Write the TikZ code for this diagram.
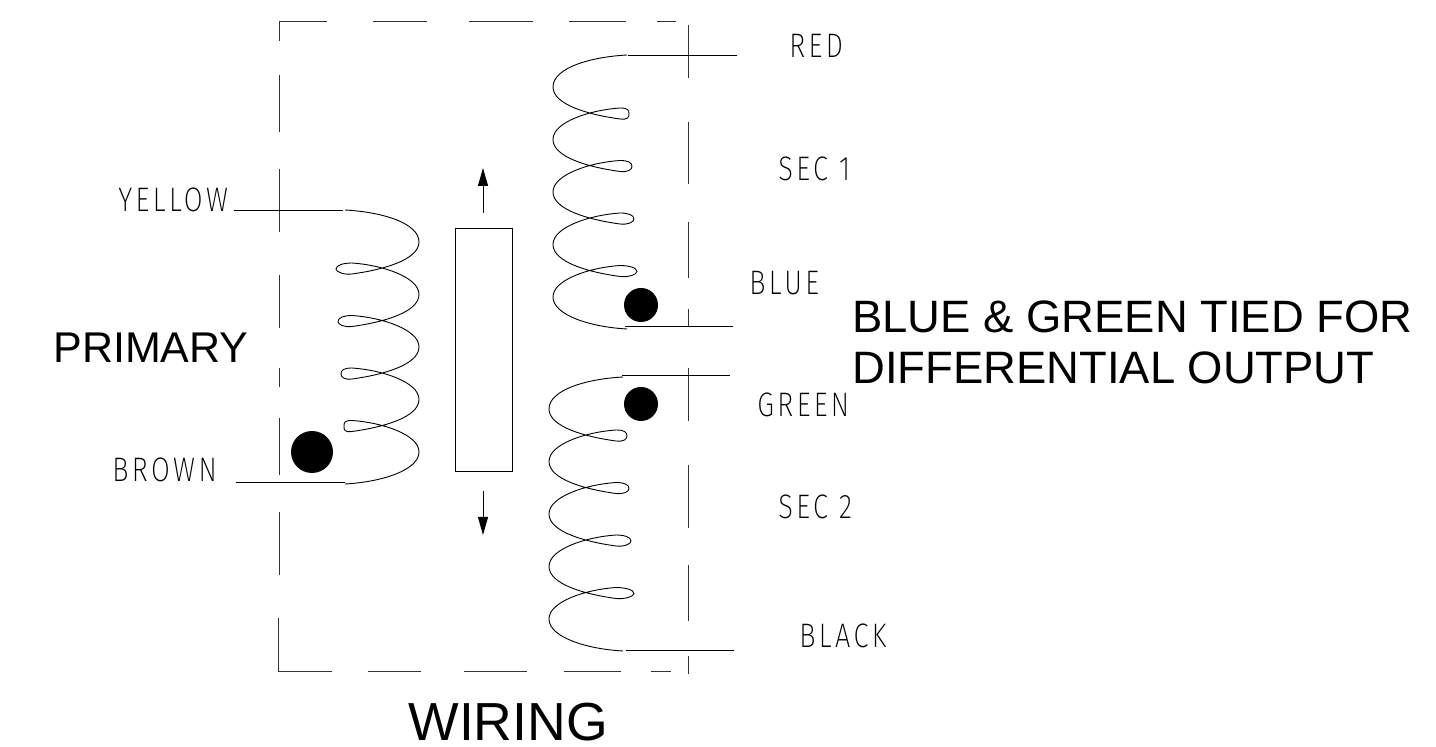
\documentclass[tikz,border=0pt]{standalone}
\usepackage{fontspec}
\usepackage{tikz}
\usetikzlibrary{arrows.meta}
\setmainfont{Liberation Sans}
\newfontfamily\cadfont[UprightFont={* ExtraLight},LetterSpace=10,FakeStretch=0.8]{Fira Sans}

% one winding, drawn from the lead end: #1 position, #2 side, #3 end of each loop
\newcommand{\drawcoil}[3]{
\draw[coil_style, shift={#1}, xscale=#2] (0,0) .. controls (-37,2) and (-74,13) .. (-74,32)
  \foreach \tip [count=\turn from 0, evaluate=\turn as \y using \turn*52.5] in {#3} {
    .. controls (-74,{\y+50}) and (-37,{\y+60}) .. (-7,{\y+64})
    .. controls (1,{\y+65}) and (\tip,{\y+62}) .. (\tip,{\y+59})
    .. controls (\tip,{\y+55}) and (1,{\y+53}) .. (-7,{\y+53})
    .. controls (-37,{\y+55}) and (-74,{\y+67}) .. (-74,{\y+84.5})
  }
  .. controls (-74,260) and (-37,272) .. (0,274);
}

\begin{document}
\begin{tikzpicture}[x=0.5pt, y=-0.5pt,
coil_style/.style={draw=black, line width=0.45pt},
wire_style/.style={draw=black, line width=0.5pt},
frame_style/.style={draw=black!80, line width=0.5pt},
dot_style/.style={circle, fill=black, inner sep=0pt},
cad_style/.style={inner sep=0pt, anchor=base west, font=\cadfont\fontsize{17}{17}\selectfont},
note_style/.style={inner sep=0pt, anchor=base west, font=\fontsize{22.7}{22.7}\selectfont},
arrow_style/.style={draw=black, line width=0.5pt, -{Triangle[length=9pt, width=5pt]}}]
\useasboundingbox (0,0) rectangle (1436,747);

% dashed case
\draw[frame_style] (279,41) -- (279,21.5) -- (327,21.5);
\foreach \a/\b in {373/427, 469/533, 569/626, 657/676}
  \draw[frame_style] (\a,21.5) -- (\b,21.5);
\foreach \a/\b in {75/132, 169/232, 275/328, 368/387, 418/475, 512/575}
  \draw[frame_style] (279,\a) -- (279,\b);
\draw[frame_style] (278.5,618) -- (278.5,672) -- (332,672);
\foreach \a/\b in {368/421, 464/527, 564/621, 651/671}
  \draw[frame_style] (\a,672) -- (\b,672);
\foreach \a/\b in {25/78, 122/184, 222/278, 309/327, 368/421, 465/528, 565/621, 656/674}
  \draw[frame_style] (688,\a) -- (688,\b);

% core
\node[draw=black, line width=0.5pt, minimum width=28.5pt, minimum height=121.5pt, inner sep=0pt] (core) at (483.5,350.5) {};
\coordinate (up_base) at (483,213);
\coordinate (up_tip) at (483,168);
\coordinate (down_base) at (483,491);
\coordinate (down_tip) at (483,535);
\draw[arrow_style] (up_base) -- (up_tip);
\draw[arrow_style] (down_base) -- (down_tip);

% windings
\drawcoil{(345,210)}{-1}{9,7,4,1}
\drawcoil{(627,55)}{1}{2,5,7,10}
\drawcoil{(623,377)}{1}{4,6,8,11}

% dots
\node[dot_style, minimum size=21pt] (dot_primary) at (312,452) {};
\node[dot_style, minimum size=17pt] (dot_blue) at (641,305) {};
\node[dot_style, minimum size=17pt] (dot_green) at (641,404) {};

% leads
\coordinate (yellow_a) at (234,211);
\coordinate (yellow_b) at (343,211);
\coordinate (brown_a) at (236,483);
\coordinate (brown_b) at (345,483);
\coordinate (red_a) at (628,56);
\coordinate (red_b) at (737,56);
\coordinate (blue_a) at (625,327);
\coordinate (blue_b) at (733,327);
\coordinate (green_a) at (622,376);
\coordinate (green_b) at (730,376);
\coordinate (black_a) at (626,651);
\coordinate (black_b) at (734,651);
\draw[wire_style] (yellow_a) -- (yellow_b);
\draw[wire_style] (brown_a) -- (brown_b);
\draw[wire_style] (red_a) -- (red_b);
\draw[wire_style] (blue_a) -- (blue_b);
\draw[wire_style] (green_a) -- (green_b);
\draw[wire_style] (black_a) -- (black_b);

% labels
\node[cad_style] (yellow) at (118,212) {YELLOW};
\node[cad_style] (brown) at (112,482) {BROWN};
\node[cad_style] (red) at (789,58) {RED};
\node[cad_style] (sec_one) at (778,181) {SEC 1};
\node[cad_style] (blue) at (749,295) {BLUE};
\node[cad_style] (green) at (757,417) {GREEN};
\node[cad_style] (sec_two) at (778,519) {SEC 2};
\node[cad_style] (black) at (799,648) {BLACK};

\node[note_style, font=\fontsize{21.5}{21.5}\selectfont] (primary) at (53,363) {PRIMARY};
\node[note_style] (tied) at (852,333) {BLUE \& GREEN TIED FOR};
\node[note_style] (output) at (852,384) {DIFFERENTIAL OUTPUT};
\node[note_style, font=\fontsize{26.8}{26.8}\selectfont] (wiring) at (408,741) {WIRING};
\end{tikzpicture}
\end{document}
